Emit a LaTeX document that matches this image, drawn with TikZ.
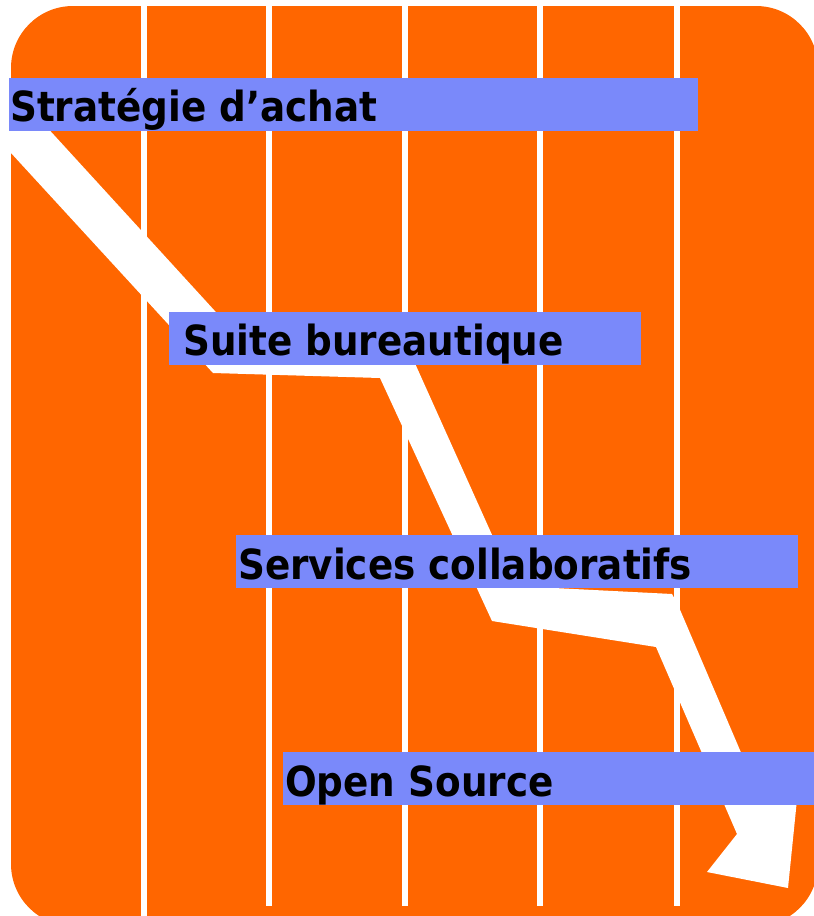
\documentclass[tikz,border=0pt]{standalone}
\usepackage{fontspec}
\newfontfamily\lblfont{DejaVu Sans Condensed Bold}
\definecolor{bgorange}{RGB}{255,102,0}
\definecolor{lblblue}{RGB}{122,137,250}
\begin{document}
\begin{tikzpicture}[x=1pt,y=-1pt,
  sepline/.style={fill=white},
  lblbox/.style={fill=lblblue},
  lbl/.style={anchor=base west, inner sep=0pt, text=black,
    font=\lblfont\fontsize{41.5}{48}\selectfont}]
\useasboundingbox (0,0) rectangle (814,916);
% background panel
\fill[bgorange, rounded corners=62pt] (11,6) rectangle (818,926);
% vertical separators
\fill[sepline] (140.5,6) rectangle (146.5,916);
\foreach \x in {269,405,540,676.5}
  \fill[sepline] (\x-3,6) rectangle (\x+3,906);
% white zigzag arrow
\begin{scope}
  \clip[rounded corners=62pt] (11,6) rectangle (818,926);
  \fill[white] (22,100) -- (225,322) -- (400,330) -- (515,586) -- (672,594)
    -- (678,605) -- (757,790) -- (800,770) -- (788,888) -- (707,872)
    -- (737,834) -- (656,647) -- (492,621) -- (380,378) -- (213,373)
    -- (11,153) -- (0,141) -- (0,100) -- cycle;
\end{scope}
% label bands
\fill[lblbox] (9,78) rectangle (698,131);
\fill[lblbox] (169,312) rectangle (641,365);
\fill[lblbox] (236,535) rectangle (798,588);
\fill[lblbox] (283,752) rectangle (820,805);
\node[lbl] (t1) at (10,121) {Stratégie d’achat};
\node[lbl] (t2) at (183,355) {Suite bureautique};
\node[lbl] (t3) at (238,579) {Services collaboratifs};
\node[lbl] (t4) at (285,796) {Open Source};
\end{tikzpicture}
\end{document}
